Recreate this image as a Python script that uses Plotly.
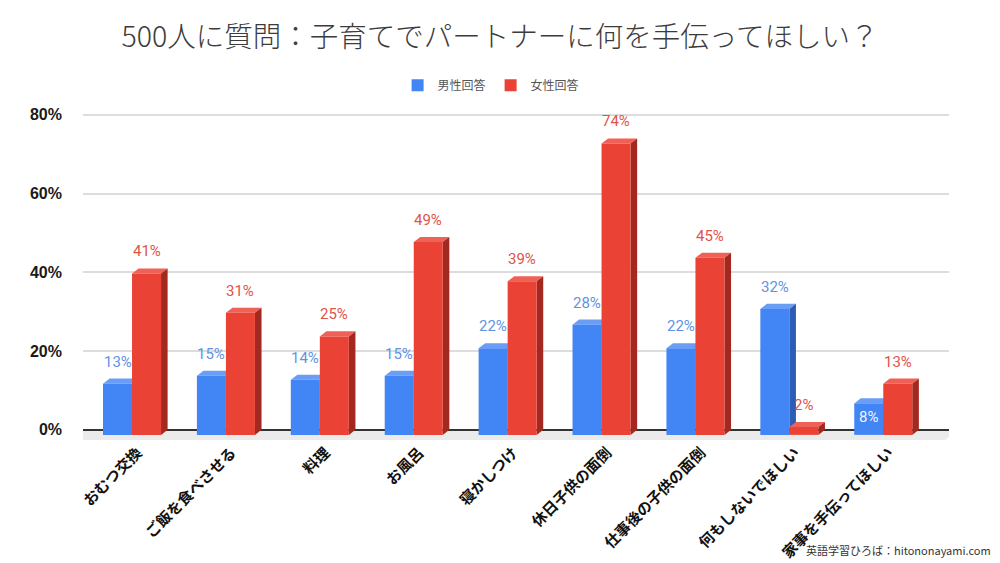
import plotly.graph_objects as go

# 質問項目と回答率（%）
categories = ['おむつ交換', 'ご飯を食べさせる', '料理', 'お風呂', '寝かしつけ',
              '休日子供の面倒', '仕事後の子供の面倒', '何もしないでほしい', '家事を手伝ってほしい']
male = [13, 15, 14, 15, 22, 28, 22, 32, 8]
female = [41, 31, 25, 49, 39, 74, 45, 2, 13]
y_ticks = [0, 20, 40, 60, 80]

# 見た目（3D風の奥行き）
W = 0.309      # 前面の幅（x単位）
DX = 0.07      # 奥行きの横ずれ
DY = 1.3       # 奥行きの縦ずれ（%）

series = [
    dict(name='男性回答', vals=male, off=-W, front='#4285F4', top='#6a9ef6', side='#2c5cb4', label='#5f93e3'),
    dict(name='女性回答', vals=female, off=0.0, front='#EA4335', top='#ef6156', side='#a3281f', label='#e05349'),
]

fig = go.Figure()
shapes = []
annotations = []

# 床の影
shapes.append(dict(type='path', xref='x', yref='y', layer='below',
                   path=f'M -0.6,0 L 8.8,0 L {8.8 - 2 * DX},-2.6 L {-0.6 - 2 * DX},-2.6 Z',
                   fillcolor='#ebebeb', line_width=0))

for s in series:
    xs = [i + s['off'] + W / 2 for i in range(len(categories))]
    fig.add_trace(go.Bar(
        x=xs, y=s['vals'], base=[-DY] * len(xs), width=W,
        name=s['name'], marker_color=s['front'], marker_line_width=0,
        hovertemplate='%{y}%<extra>' + s['name'] + '</extra>'
    ))
    for i, v in enumerate(s['vals']):
        x0 = i + s['off']
        x1 = x0 + W
        top = v - DY
        # 上面
        shapes.append(dict(type='path', xref='x', yref='y', layer='between',
                           path=f'M {x0},{top} L {x1},{top} L {x1 + DX},{v} L {x0 + DX},{v} Z',
                           fillcolor=s['top'], line_width=0))
        # 側面
        shapes.append(dict(type='path', xref='x', yref='y', layer='between',
                           path=f'M {x1},{-DY} L {x1},{top} L {x1 + DX},{v} L {x1 + DX},0 Z',
                           fillcolor=s['side'], line_width=0))
        # 数値ラベル
        inside = s['name'] == '男性回答' and v < 10
        annotations.append(dict(
            x=(x0 + x1) / 2, y=top if inside else v, xref='x', yref='y',
            text=f'{v}%', showarrow=False,
            yanchor='top' if inside else 'bottom', yshift=-3 if inside else 6,
            font=dict(family='Roboto, Arial, sans-serif', size=15,
                      color='#f2f6ff' if inside else s['label'])
        ))

annotations.append(dict(
    text='英語学習ひろば：hitononayami.com', xref='paper', yref='paper',
    x=1.0508, y=-0.36, xanchor='right', yanchor='bottom', showarrow=False,
    font=dict(family='Noto Sans CJK JP', size=11, color='#333333')
))

# ページ本体の余白(8px)を考慮して少し小さめに作る
fig.update_layout(
    width=992, height=555,
    margin=dict(l=75, r=51, t=99, b=123),
    barmode='overlay',
    plot_bgcolor='white', paper_bgcolor='white',
    title=dict(text='500人に質問：子育てでパートナーに何を手伝ってほしい？',
               x=0.496, xref='container', xanchor='center', y=0.948, yanchor='middle',
               font=dict(family='Noto Sans CJK JP', size=28.5, color='#3c3c3c', weight=300)),
    legend=dict(orientation='h', x=0.487, xref='container', xanchor='center',
                y=0.861, yref='container', yanchor='middle',
                font=dict(family='Noto Sans CJK JP', size=12, color='#555555')),
    shapes=shapes,
    annotations=annotations,
    xaxis=dict(range=[-0.522, 8.70], tickvals=[i + 0.06 for i in range(len(categories))],
               ticktext=categories, tickangle=-45, showgrid=False, zeroline=False,
               ticks='', ticklabelstandoff=0, automargin=False,
               tickfont=dict(family='Noto Sans CJK JP', size=15, color='#111111', weight='bold')),
    yaxis=dict(range=[-2.6, 82], tickvals=y_ticks, ticktext=[f'{t}%' for t in y_ticks],
               showgrid=True, automargin=False,
               gridcolor='#dddddd', gridwidth=1.5, zeroline=True, zerolinecolor='#333333',
               zerolinewidth=1.5, ticks='', ticklabelstandoff=20,
               tickfont=dict(family='Liberation Sans, Arial, sans-serif', size=16, color='#1a1a1a', weight='bold')),
)

fig.write_html('out.html')
